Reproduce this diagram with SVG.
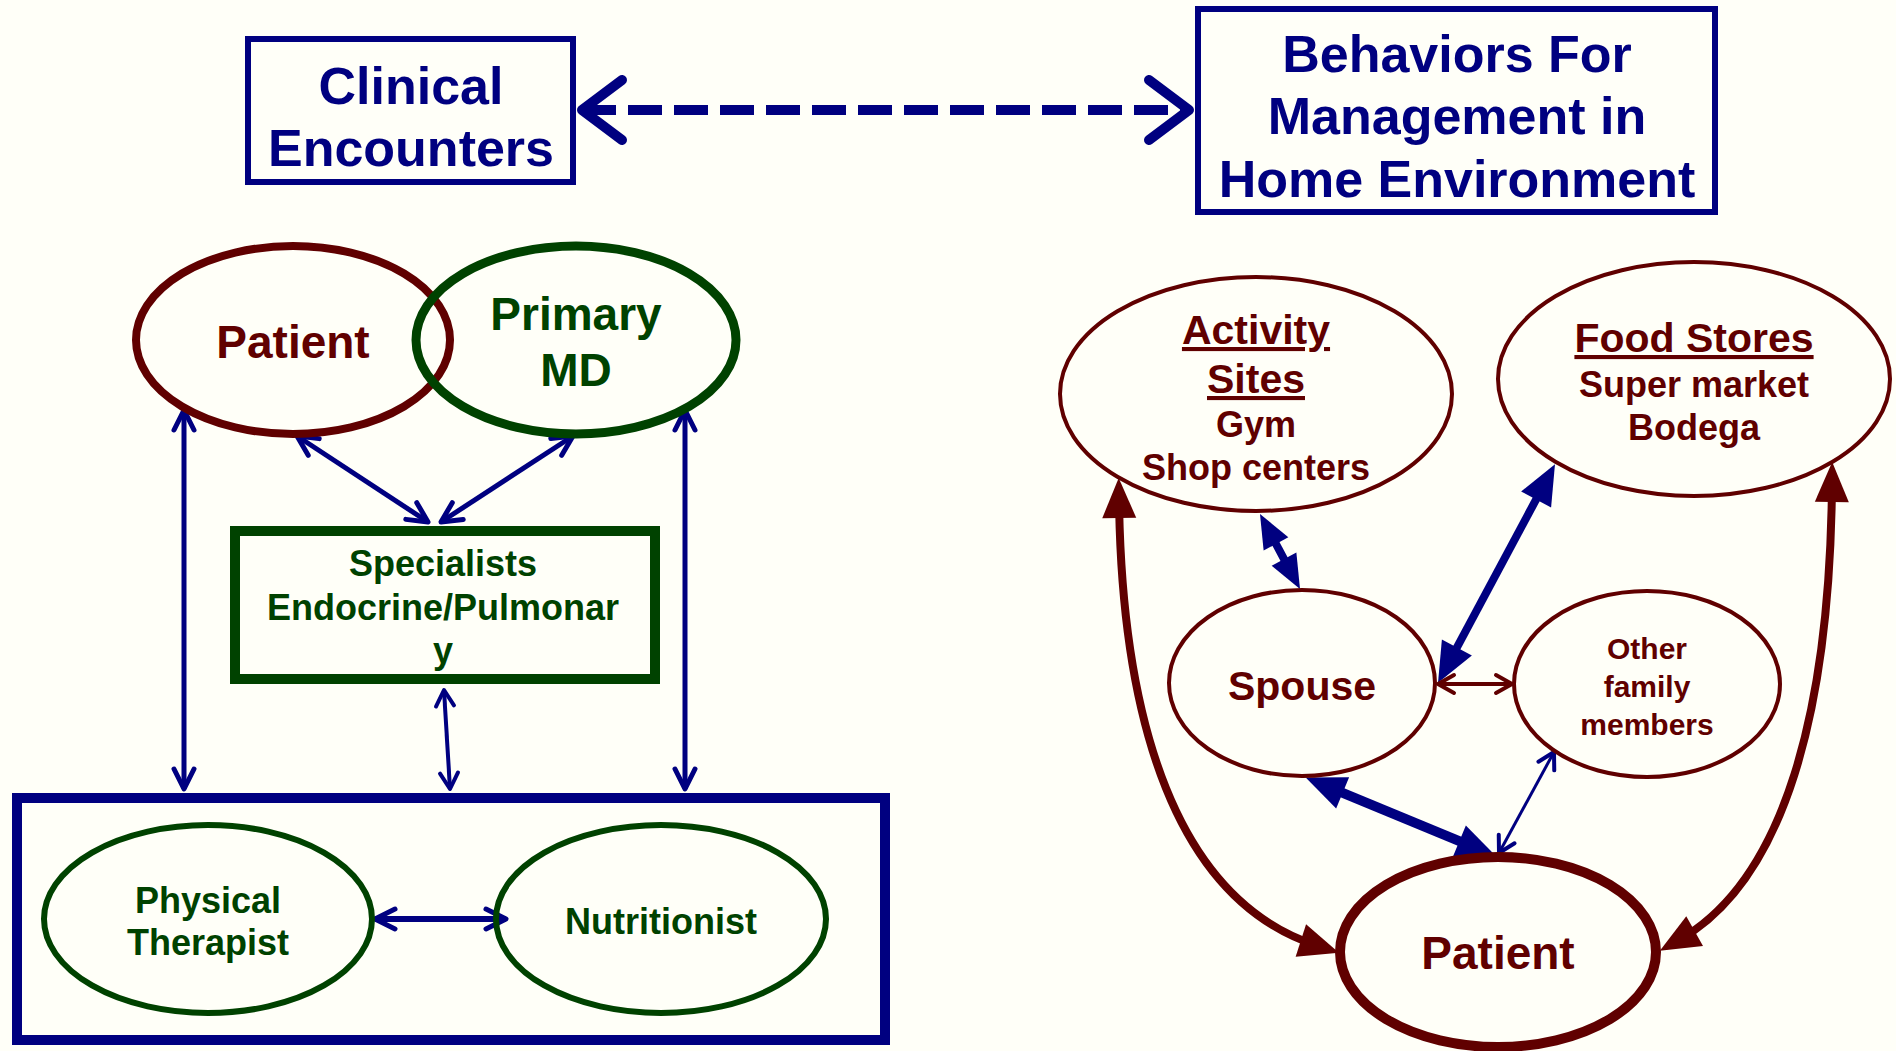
<svg xmlns="http://www.w3.org/2000/svg" width="1896" height="1051" viewBox="0 0 1896 1051">
<defs>
<style>
text{font-family:"Liberation Sans",Arial,sans-serif;font-weight:bold;text-anchor:middle}
.navy{fill:#000080}.mar{fill:#600000}.grn{fill:#004200}
.t52{font-size:52px}.t46{font-size:46px}.t41{font-size:41px}.t36{font-size:36px}.t30{font-size:30px}
.u{text-decoration:underline}
.box{fill:none;stroke:#000080;stroke-width:6}
.c{fill:none}
</style>
<marker id="chevN" viewBox="-26 -15 30 30" markerWidth="30" markerHeight="30" refX="0" refY="0" markerUnits="userSpaceOnUse" orient="auto-start-reverse">
<path d="M -20,-10 L 0,0 L -20,10" fill="none" stroke="#000080" stroke-width="5" stroke-linecap="round" stroke-linejoin="round"/>
</marker>
<marker id="chevS" viewBox="-26 -15 30 30" markerWidth="30" markerHeight="30" refX="0" refY="0" markerUnits="userSpaceOnUse" orient="auto-start-reverse">
<path d="M -16,-9 L 0,0 L -16,9" fill="none" stroke="#000080" stroke-width="4" stroke-linecap="round" stroke-linejoin="round"/>
</marker>
<marker id="chevM" viewBox="-26 -15 30 30" markerWidth="30" markerHeight="30" refX="0" refY="0" markerUnits="userSpaceOnUse" orient="auto-start-reverse">
<path d="M -16,-9 L 0,0 L -16,9" fill="none" stroke="#600000" stroke-width="4" stroke-linecap="round" stroke-linejoin="round"/>
</marker>
<marker id="chevBig" viewBox="-60 -40 70 80" markerWidth="70" markerHeight="80" refX="0" refY="0" markerUnits="userSpaceOnUse" orient="auto-start-reverse">
<path d="M -40,-30 L 0,0 L -40,30" fill="none" stroke="#000080" stroke-width="10" stroke-linecap="round" stroke-linejoin="round"/>
</marker>
<marker id="triN" viewBox="-40 -30 70 60" markerWidth="70" markerHeight="60" refX="-2" refY="0" markerUnits="userSpaceOnUse" orient="auto-start-reverse">
<path d="M -20,-17 L 20,0 L -20,17 z" fill="#000080"/>
</marker>
<marker id="triNs" viewBox="-40 -30 70 60" markerWidth="70" markerHeight="60" refX="0" refY="0" markerUnits="userSpaceOnUse" orient="auto-start-reverse">
<path d="M -14,-14 L 20,0 L -14,14 z" fill="#000080"/>
</marker>
<marker id="triM" viewBox="-40 -30 70 60" markerWidth="70" markerHeight="60" refX="0" refY="0" markerUnits="userSpaceOnUse" orient="auto-start-reverse">
<path d="M -18,-17 L 22,0 L -18,17 z" fill="#600000"/>
</marker>
</defs>
<rect width="1896" height="1051" fill="#FFFFF8"/>

<g id="connectors" fill="none" stroke-linecap="butt">
<path d="M 582,110 L 1189,110" stroke="#000080" stroke-width="10" stroke-dasharray="34 12" marker-start="url(#chevBig)" marker-end="url(#chevBig)"/>
<path d="M 184,410 L 184,789" stroke="#000080" stroke-width="5" marker-start="url(#chevN)" marker-end="url(#chevN)"/>
<path d="M 685,410 L 685,789" stroke="#000080" stroke-width="5" marker-start="url(#chevN)" marker-end="url(#chevN)"/>
<path d="M 297,436 L 428,522" stroke="#000080" stroke-width="5" marker-start="url(#chevN)" marker-end="url(#chevN)"/>
<path d="M 573,436 L 441,522" stroke="#000080" stroke-width="5" marker-start="url(#chevN)" marker-end="url(#chevN)"/>
<path d="M 444,690 L 450,789" stroke="#000080" stroke-width="4" marker-start="url(#chevS)" marker-end="url(#chevS)"/>
<path d="M 375,919 L 506,919" stroke="#000080" stroke-width="6" marker-start="url(#chevN)" marker-end="url(#chevN)"/>

<path d="M 1119,500 C 1122,720 1175,900 1318,946" stroke="#600000" stroke-width="8" marker-start="url(#triM)" marker-end="url(#triM)"/>
<path d="M 1832,484 C 1830,710 1785,880 1679,940" stroke="#600000" stroke-width="8" marker-start="url(#triM)" marker-end="url(#triM)"/>
<path d="M 1269.4,531.6 L 1290.6,571.4" stroke="#000080" stroke-width="8" marker-start="url(#triNs)" marker-end="url(#triNs)"/>
<path d="M 1544.6,483.6 L 1448.4,663.4" stroke="#000080" stroke-width="8" marker-start="url(#triN)" marker-end="url(#triN)"/>
<path d="M 1326,786 L 1476,848" stroke="#000080" stroke-width="10" marker-start="url(#triN)" marker-end="url(#triN)"/>
<path d="M 1438,684 L 1512,684" stroke="#600000" stroke-width="4" marker-start="url(#chevM)" marker-end="url(#chevM)"/>
<path d="M 1554,752 L 1499,853" stroke="#000080" stroke-width="3" marker-start="url(#chevS)" marker-end="url(#chevS)"/>
</g>

<g id="clinical">
<rect class="box" x="248" y="39" width="325" height="143"/>
<text class="t52 navy" x="411" y="104">Clinical</text>
<text class="t52 navy" x="411" y="166">Encounters</text>
</g>
<g id="behaviors">
<rect class="box" x="1198" y="9" width="517" height="203"/>
<text class="t52 navy" x="1457" y="72">Behaviors For</text>
<text class="t52 navy" x="1457" y="134">Management in</text>
<text class="t52 navy" x="1457" y="197">Home Environment</text>
</g>

<g id="patient-left">
<ellipse class="c" cx="293" cy="340" rx="157" ry="94" stroke="#600000" stroke-width="8"/>
<text class="t46 mar" x="293" y="358">Patient</text>
</g>
<g id="primary-md">
<ellipse class="c" cx="576" cy="340" rx="160" ry="94" stroke="#004200" stroke-width="9"/>
<text class="t46 grn" x="576" y="330">Primary</text>
<text class="t46 grn" x="576" y="386">MD</text>
</g>
<g id="specialists">
<rect x="235" y="531" width="420" height="148" fill="none" stroke="#004200" stroke-width="10"/>
<text class="t36 grn" x="443" y="576">Specialists</text>
<text class="t36 grn" x="443" y="620">Endocrine/Pulmonar</text>
<text class="t36 grn" x="443" y="663">y</text>
</g>
<g id="care-team">
<rect x="17" y="798" width="868" height="242" fill="none" stroke="#000080" stroke-width="10"/>
</g>
<g id="physical-therapist">
<ellipse class="c" cx="208" cy="919" rx="164" ry="94" stroke="#004200" stroke-width="6"/>
<text class="t36 grn" x="208" y="913">Physical</text>
<text class="t36 grn" x="208" y="955">Therapist</text>
</g>
<g id="nutritionist">
<ellipse class="c" cx="661" cy="919" rx="165" ry="94" stroke="#004200" stroke-width="6"/>
<text class="t36 grn" x="661" y="934">Nutritionist</text>
</g>

<g id="activity-sites">
<ellipse class="c" cx="1256" cy="394" rx="196" ry="117" stroke="#600000" stroke-width="4"/>
<text class="t41 mar u" x="1256" y="344">Activity</text>
<text class="t41 mar u" x="1256" y="393">Sites</text>
<text class="t36 mar" x="1256" y="437">Gym</text>
<text class="t36 mar" x="1256" y="480">Shop centers</text>
</g>
<g id="food-stores">
<ellipse class="c" cx="1694" cy="379" rx="196" ry="117" stroke="#600000" stroke-width="4"/>
<text class="t41 mar u" x="1694" y="352">Food Stores</text>
<text class="t36 mar" x="1694" y="397">Super market</text>
<text class="t36 mar" x="1694" y="440">Bodega</text>
</g>
<g id="spouse">
<ellipse class="c" cx="1302" cy="683" rx="133" ry="93" stroke="#600000" stroke-width="4"/>
<text class="t41 mar" x="1302" y="700">Spouse</text>
</g>
<g id="other-family">
<ellipse class="c" cx="1647" cy="684" rx="133" ry="93" stroke="#600000" stroke-width="4"/>
<text class="t30 mar" x="1647" y="659">Other</text>
<text class="t30 mar" x="1647" y="697">family</text>
<text class="t30 mar" x="1647" y="735">members</text>
</g>
<g id="patient-right">
<ellipse class="c" cx="1498" cy="952" rx="158" ry="95" stroke="#600000" stroke-width="10"/>
<text class="t46 mar" x="1498" y="969">Patient</text>
</g>
</svg>
